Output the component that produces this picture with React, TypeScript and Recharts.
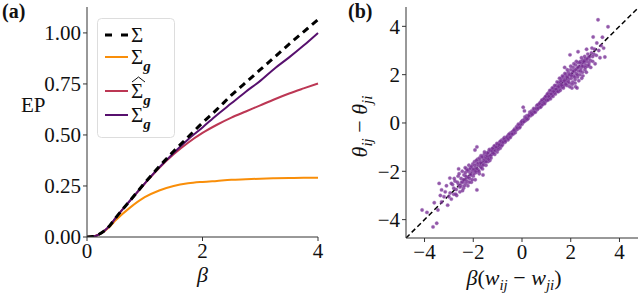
import {
  ComposedChart,
  Line,
  XAxis,
  YAxis,
  Legend,
  ScatterChart,
  Scatter,
  ReferenceLine,
} from "recharts";

// panel (a): entropy production vs beta
const BETA = [0, 0.1, 0.2, 0.3, 0.4, 0.5, 0.75, 1, 1.25, 1.5, 1.75, 2, 2.25, 2.5, 2.75, 3, 3.25, 3.5, 3.75, 4];
const EP_TOTAL = [0, 0.002, 0.012, 0.03, 0.058, 0.095, 0.18, 0.265, 0.345, 0.42, 0.49, 0.56, 0.625, 0.695, 0.757, 0.82, 0.882, 0.945, 1.005, 1.065];
const EP_GAUSS = [0, 0.002, 0.012, 0.029, 0.053, 0.083, 0.145, 0.195, 0.228, 0.25, 0.263, 0.27, 0.275, 0.28, 0.283, 0.286, 0.288, 0.289, 0.29, 0.29];
const EP_GAUSS_HAT = [0, 0.002, 0.012, 0.03, 0.058, 0.095, 0.179, 0.261, 0.338, 0.405, 0.462, 0.51, 0.55, 0.585, 0.615, 0.645, 0.675, 0.703, 0.728, 0.752];
const EP_GAUSS_FIT = [0, 0.002, 0.012, 0.03, 0.058, 0.095, 0.18, 0.263, 0.341, 0.412, 0.478, 0.537, 0.598, 0.655, 0.712, 0.765, 0.826, 0.88, 0.938, 1.0];
const EP_TICKS = [0, 0.25, 0.5, 0.75, 1.0];
const BETA_TICKS = [0, 2, 4];

// panel (b): theta_ij - theta_ji against beta (w_ij - w_ji)
const COUPLING_TICKS = [-4, -2, 0, 2, 4];
const COUPLING_POINTS: [number, number][] = [
  [-4.1, -3.6], [-3.65, -4.3], [-3.5, -4.15], [-3.3, -2.77], [-3.3, -3.27], [-3.2, -3.05], [-3.1, -2.6],
  [-3.05, -3.4], [-2.96, -2.28], [-2.95, -2.9], [-2.9, -3.15], [-2.85, -2.55], [-2.8, -2.95], [-2.75, -2.4],
  [-2.7, -2.75], [-2.68, -3.0], [-2.62, -2.2], [-2.6, -2.55], [-2.55, -2.85], [-2.5, -2.3], [-2.5, -2.6],
  [-2.45, -2.0], [-2.42, -2.45], [-2.4, -2.7], [-2.38, -2.15], [-2.35, -2.35], [-2.32, -2.05], [-2.3, -2.5],
  [-2.28, -1.9], [-2.25, -2.25], [-2.22, -2.6], [-2.2, -2.0], [-2.18, -1.75], [-2.15, -2.3], [-2.12, -2.1],
  [-2.1, -1.85], [-2.08, -2.45], [-2.05, -2.0], [-2.02, -1.7], [-2.0, -2.2], [-1.98, -1.95], [-1.95, -1.6],
  [-1.93, -1.12], [-1.92, -2.35], [-1.9, -1.85], [-1.88, -2.05], [-1.85, -2.77], [-1.85, -0.99], [-1.85, -1.7],
  [-1.82, -1.5], [-1.8, -1.95], [-1.78, -1.75], [-1.75, -2.1], [-1.72, -1.55], [-1.7, -1.8], [-1.68, -1.35],
  [-1.65, -1.65], [-1.62, -1.9], [-1.6, -1.45], [-1.58, -1.7], [-1.55, -1.3], [-1.52, -1.6], [-1.5, -1.5],
  [-1.48, -1.75], [-1.45, -1.25], [-1.42, -1.45], [-1.4, -1.6], [-1.38, -1.2], [-1.35, -1.4], [-1.32, -1.55],
  [-1.3, -1.15], [-1.28, -1.35], [-1.25, -1.3], [-1.22, -1.05], [-1.2, -1.25], [-1.15, -1.1], [-1.12, -1.3],
  [-1.1, -0.95], [-1.05, -1.05], [-1.02, -1.2], [-1.0, -0.9], [-0.95, -1.0], [-0.92, -0.8], [-0.9, -1.05],
  [-0.85, -0.85], [-0.82, -0.7], [-0.8, -0.9], [-0.75, -0.75], [-0.72, -0.6], [-0.7, -0.8], [-0.65, -0.65],
  [-0.6, -0.55], [-0.58, -0.7], [-0.55, -0.5], [-0.5, -0.55], [-0.45, -0.4], [-0.42, -0.5], [-0.38, -0.35],
  [-0.35, -0.45], [-0.3, -0.25], [-0.25, -0.3], [-0.22, -0.15], [-0.18, -0.25], [-0.12, -0.1], [-0.08, -0.15],
  [-0.05, 0.0], [0.0, -0.05], [0.02, 0.1], [0.05, 0.65], [0.05, 0.05], [0.1, 0.5], [0.1, 0.15], [0.15, 0.1],
  [0.2, 0.3], [0.25, 0.2], [0.3, 0.35], [0.35, 0.3], [0.4, 0.5], [0.45, 0.4], [0.5, 0.55], [0.55, 0.45],
  [0.6, 0.7], [0.62, 0.55], [0.68, 0.75], [0.7, 0.65], [0.75, 0.85], [0.78, 0.7], [0.8, 0.9], [0.85, 0.8],
  [0.88, 0.95], [0.9, 0.85], [0.95, 1.05], [0.98, 0.9], [1.0, 1.1], [1.02, 0.95], [1.05, 1.15], [1.08, 1.0],
  [1.1, 1.25], [1.12, 1.05], [1.15, 1.2], [1.18, 1.1], [1.2, 1.35], [1.22, 1.15], [1.25, 1.3], [1.28, 1.2],
  [1.3, 1.45], [1.32, 1.25], [1.35, 1.4], [1.38, 1.3], [1.4, 1.55], [1.42, 1.35], [1.45, 1.5], [1.48, 1.4],
  [1.5, 1.65], [1.5, 1.3], [1.52, 1.55], [1.55, 1.7], [1.58, 1.45], [1.6, 1.6], [1.62, 1.85], [1.65, 1.5],
  [1.68, 1.7], [1.7, 1.9], [1.72, 1.55], [1.75, 1.8], [1.78, 1.65], [1.8, 2.0], [1.82, 1.75], [1.85, 1.55],
  [1.88, 1.9], [1.9, 2.1], [1.92, 1.8], [1.95, 1.65], [1.97, 2.82], [1.98, 2.0], [2.0, 2.2], [2.02, 1.85],
  [2.05, 2.05], [2.08, 1.7], [2.1, 2.3], [2.12, 1.95], [2.15, 2.15], [2.18, 1.8], [2.2, 2.4], [2.22, 2.05],
  [2.25, 2.25], [2.28, 1.9], [2.3, 2.5], [2.32, 2.15], [2.35, 2.35], [2.38, 2.0], [2.4, 2.55], [2.42, 2.25],
  [2.45, 2.45], [2.48, 2.1], [2.5, 2.6], [2.52, 2.35], [2.55, 2.5], [2.58, 2.2], [2.6, 2.65], [2.62, 2.4],
  [2.65, 2.55], [2.7, 2.35], [2.72, 2.7], [2.75, 2.5], [2.8, 2.6], [2.2, 1.5], [2.05, 1.45], [2.26, 1.45],
  [2.18, 1.65], [2.87, 3.1], [2.92, 3.56], [3.07, 3.31], [3.12, 4.27], [3.2, 2.7], [3.4, 2.73], [3.53, 3.98],
  [2.95, 2.85], [3.0, 2.45], [3.25, 3.2], [2.9, 2.75], [3.3, 3.55],
  [-3.9, -3.7], [-3.6, -3.3], [-3.45, -3.6], [-3.35, -3.0], [-3.15, -2.85], [-3.0, -3.05], [-2.9, -2.5],
  [-2.8, -2.7], [-2.78, -2.3], [-2.72, -2.95], [-2.65, -2.45], [-2.58, -2.1], [-2.55, -2.65], [-2.48, -2.45],
  [-2.44, -2.8], [-2.4, -2.35], [-2.36, -2.6], [-2.33, -1.85], [-2.3, -2.2], [-2.27, -2.4], [-2.24, -1.95],
  [-2.2, -2.25], [-2.17, -2.45], [-2.14, -1.9], [-2.1, -2.15], [-2.07, -1.8], [-2.04, -2.35], [-2.0, -1.9],
  [-1.97, -2.1], [-1.94, -1.75], [-1.9, -2.0], [-1.87, -1.55], [-1.84, -1.9], [-1.8, -1.65], [-1.77, -2.0],
  [-1.74, -1.45], [-1.7, -1.65], [-1.67, -1.85], [-1.64, -1.4], [-1.6, -1.75], [-1.57, -1.55], [-1.54, -1.2],
  [-1.5, -1.4], [-1.47, -1.6], [-1.44, -1.35], [-1.4, -1.25], [-1.37, -1.5], [-1.34, -1.1], [-1.3, -1.35],
  [-1.27, -1.45], [-1.24, -1.15], [-1.2, -1.05], [-1.17, -1.25], [-1.14, -0.95], [-1.1, -1.15], [-1.06, -1.0],
  [-1.03, -0.85], [-0.98, -1.1], [-0.94, -0.9], [-0.88, -0.75], [-0.84, -0.95], [-0.78, -0.8], [-0.74, -0.65],
  [-0.68, -0.75], [-0.62, -0.6], [-0.56, -0.65], [-0.52, -0.45], [-0.48, -0.6], [-0.4, -0.45], [-0.33, -0.3],
  [-0.28, -0.4], [-0.2, -0.2], [-0.15, -0.05], [-0.1, -0.2], [-0.02, 0.05], [0.08, 0.05], [0.12, 0.25],
  [0.18, 0.2], [0.22, 0.15], [0.28, 0.3], [0.32, 0.45], [0.38, 0.4], [0.42, 0.35], [0.48, 0.6], [0.52, 0.45],
  [0.58, 0.6], [0.64, 0.75], [0.66, 0.6], [0.72, 0.8], [0.76, 0.65], [0.82, 0.95], [0.84, 0.75], [0.9, 1.0],
  [0.93, 0.8], [0.97, 1.1], [1.0, 0.95], [1.04, 1.2], [1.07, 0.95], [1.1, 1.1], [1.14, 1.35], [1.17, 1.0],
  [1.2, 1.2], [1.24, 1.45], [1.27, 1.1], [1.3, 1.3], [1.34, 1.55], [1.37, 1.2], [1.4, 1.4], [1.44, 1.7],
  [1.47, 1.3], [1.5, 1.5], [1.54, 1.85], [1.57, 1.35], [1.6, 1.75], [1.63, 1.55], [1.66, 1.95], [1.7, 1.45],
  [1.73, 1.75], [1.76, 2.05], [1.8, 1.6], [1.83, 1.9], [1.86, 2.2], [1.9, 1.7], [1.93, 2.0], [1.96, 1.5],
  [2.0, 2.35], [2.03, 1.95], [2.06, 1.6], [2.1, 2.15], [2.13, 2.45], [2.16, 1.9], [2.2, 2.2], [2.23, 2.55],
  [2.27, 2.0], [2.3, 2.3], [2.33, 1.75], [2.37, 2.5], [2.4, 2.15], [2.44, 2.7], [2.47, 2.35], [2.5, 1.95],
  [2.54, 2.55], [2.57, 2.75], [2.6, 2.3], [2.64, 2.1], [2.67, 2.65], [2.7, 2.85], [2.74, 2.4], [2.78, 2.75],
  [2.82, 2.3], [2.85, 2.9], [2.9, 2.55], [2.98, 3.05], [3.05, 2.8], [3.15, 3.0], [3.35, 3.1],
  [2.3, 2.95], [2.45, 1.85], [1.75, 2.3], [-2.6, -1.9], [-1.6, -2.15], [-3.4, -2.5], [2.65, 3.05],
];

const SERIF = "'Liberation Serif', 'DejaVu Serif', serif";
const INK = "#111";
const FRAME = "#333";

const SERIES = [
  { key: "total", color: "#000000", dash: "7 5", width: 3 },
  { key: "gauss", color: "#f98e09", dash: undefined, width: 2 },
  { key: "gaussHat", color: "#bc3754", dash: undefined, width: 2 },
  { key: "gaussFit", color: "#57106e", dash: undefined, width: 2 },
];
const LEGEND_HAT = [false, false, true, false];
const LEGEND_SUB = [false, true, true, true];
const LEGEND_ROWS = [17, 39, 73, 97];

const epData = BETA.map((b, i) => ({
  beta: b,
  total: EP_TOTAL[i],
  gauss: EP_GAUSS[i],
  gaussHat: EP_GAUSS_HAT[i],
  gaussFit: EP_GAUSS_FIT[i],
}));

const couplingData = COUPLING_POINTS.map(([x, y]) => ({ x, y }));
const LIM_B = 4.76;

const tickStyle = { fill: INK, fontSize: 21, fontFamily: SERIF };
const minus = (v: number) => (v < 0 ? `\u2212${Math.abs(v)}` : `${v}`);

function LegendBox() {
  return (
    <svg width={78} height={120} style={{ display: "block" }}>
      <rect x={0.5} y={0.5} width={77} height={119} rx={4} fill="#fff" fillOpacity={0.8} stroke="#ddd" />
      {SERIES.map((s, i) => {
        const cy = LEGEND_ROWS[i];
        return (
          <g key={s.key}>
            <line
              x1={8}
              y1={cy}
              x2={31}
              y2={cy}
              stroke={s.color}
              strokeWidth={s.width}
              strokeDasharray={s.dash ? "7 9" : undefined}
            />
            {LEGEND_HAT[i] && (
              <polyline points={`35,${cy - 9} 41.5,${cy - 14} 48,${cy - 9}`} fill="none" stroke={INK} strokeWidth={1} />
            )}
            <text x={34} y={cy + 7} fontFamily={SERIF} fontSize={21} fill={INK}>
              Σ
              {LEGEND_SUB[i] && (
                <tspan dy={7} fontSize={15} fontWeight={700} fontStyle="italic">
                  g
                </tspan>
              )}
            </text>
          </g>
        );
      })}
    </svg>
  );
}

function BetaLabel({ viewBox }: any) {
  const { x, y, width } = viewBox;
  return (
    <text x={x + width / 2} y={y + 45} textAnchor="middle" fontFamily={SERIF} fontSize={22} fontStyle="italic" fill={INK}>
      β
    </text>
  );
}

function CouplingXLabel({ viewBox }: any) {
  const { x, y, width } = viewBox;
  return (
    <text x={x + width / 2 - 8} y={y + 47} textAnchor="middle" fontFamily={SERIF} fontSize={22} fill={INK}>
      <tspan fontStyle="italic">β</tspan>(<tspan fontStyle="italic">w</tspan>
      <tspan fontStyle="italic" fontSize={15} dy={5}>ij</tspan>
      <tspan dy={-5}> − </tspan>
      <tspan fontStyle="italic">w</tspan>
      <tspan fontStyle="italic" fontSize={15} dy={5}>ji</tspan>
      <tspan dy={-5}>)</tspan>
    </text>
  );
}

function CouplingYLabel({ viewBox }: any) {
  const { y, height } = viewBox;
  const cx = 47;
  const cy = y + height / 2 + 4;
  return (
    <text
      x={cx}
      y={cy}
      textAnchor="middle"
      transform={`rotate(-90, ${cx}, ${cy})`}
      fontFamily={SERIF}
      fontSize={22}
      fill={INK}
    >
      <tspan fontStyle="italic">θ</tspan>
      <tspan fontStyle="italic" fontSize={15} dy={5}>ij</tspan>
      <tspan dy={-5}> − </tspan>
      <tspan fontStyle="italic">θ</tspan>
      <tspan fontStyle="italic" fontSize={15} dy={5}>ji</tspan>
    </text>
  );
}

function Dot(props: any) {
  return <circle cx={props.cx} cy={props.cy} r={1.7} fill="#74298f" fillOpacity={0.78} stroke="#9d6ab8" strokeWidth={0.4} />;
}

const overlayText = { position: "absolute" as const, fontFamily: SERIF, color: INK, lineHeight: "20px" };

export default function App() {
  return (
    <div style={{ position: "absolute", left: 0, top: 0, width: 640, height: 294, background: "#fff", overflow: "hidden" }}>
      <div style={{ position: "absolute", left: 0, top: 0 }}>
        <ComposedChart width={330} height={294} data={epData} margin={{ top: 7, right: 12, bottom: 0, left: 0 }}>
          <XAxis
            dataKey="beta"
            type="number"
            domain={[0, 4]}
            ticks={BETA_TICKS}
            height={57}
            tick={tickStyle}
            tickSize={4}
            stroke={FRAME}
            label={<BetaLabel />}
          />
          <XAxis xAxisId="top" dataKey="beta" type="number" domain={[0, 4]} orientation="top" height={0} tick={false} tickLine={false} stroke={FRAME} />
          <YAxis
            type="number"
            domain={[0, 1.127]}
            ticks={EP_TICKS}
            width={87}
            allowDataOverflow
            tick={tickStyle}
            tickSize={4}
            tickFormatter={(v: number) => v.toFixed(2)}
            stroke={FRAME}
          />
          <YAxis yAxisId="right" orientation="right" domain={[0, 1.127]} width={0} tick={false} tickLine={false} stroke={FRAME} />
          {[1, 2, 3, 0].map((i) => {
            const s = SERIES[i];
            return (
              <Line
                key={s.key}
                dataKey={s.key}
                type="monotone"
                stroke={s.color}
                strokeWidth={s.width}
                strokeDasharray={s.dash}
                dot={false}
                isAnimationActive={false}
              />
            );
          })}
          <Legend
            layout="vertical"
            align="center"
            verticalAlign="middle"
            content={<LegendBox />}
            wrapperStyle={{ left: 97, top: 18, width: 78, height: 120 }}
          />
        </ComposedChart>
      </div>

      <div style={{ position: "absolute", left: 320, top: 0 }}>
        <ScatterChart width={320} height={294} margin={{ top: 7, right: 2, bottom: 0, left: 0 }}>
          <XAxis
            dataKey="x"
            type="number"
            domain={[-LIM_B, LIM_B]}
            ticks={COUPLING_TICKS}
            allowDataOverflow
            height={56}
            tick={tickStyle}
            tickSize={4}
            tickFormatter={minus}
            stroke={FRAME}
            label={<CouplingXLabel />}
          />
          <XAxis xAxisId="top" dataKey="x" type="number" domain={[-LIM_B, LIM_B]} allowDataOverflow orientation="top" height={0} tick={false} tickLine={false} stroke={FRAME} />
          <YAxis
            dataKey="y"
            type="number"
            domain={[-LIM_B, 4.8]}
            ticks={COUPLING_TICKS}
            allowDataOverflow
            width={86}
            tick={tickStyle}
            tickSize={4}
            tickFormatter={minus}
            stroke={FRAME}
            label={<CouplingYLabel />}
          />
          <YAxis yAxisId="right" dataKey="y" type="number" domain={[-LIM_B, 4.8]} allowDataOverflow orientation="right" width={0} tick={false} tickLine={false} stroke={FRAME} />
          <Scatter data={couplingData} shape={<Dot />} isAnimationActive={false} />
          <ReferenceLine
            segment={[
              { x: -LIM_B, y: -LIM_B },
              { x: LIM_B, y: LIM_B },
            ]}
            stroke="#000"
            strokeWidth={1.5}
            strokeDasharray="5 3"
            ifOverflow="hidden"
          />
        </ScatterChart>
      </div>

      <div style={{ ...overlayText, left: 2, top: 1, fontSize: 20, fontWeight: 700 }}>(a)</div>
      <div style={{ ...overlayText, left: 348, top: 1, fontSize: 20, fontWeight: 700 }}>(b)</div>
      <div style={{ ...overlayText, left: 21, top: 95, fontSize: 21 }}>EP</div>
    </div>
  );
}
